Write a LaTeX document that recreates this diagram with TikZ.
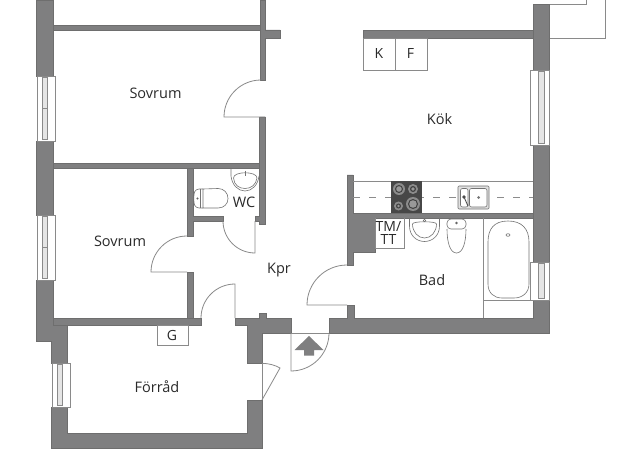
\documentclass[tikz,border=0pt]{standalone}
\usepackage{fontspec}
\setmainfont{Open Sans}
\definecolor{wallc}{HTML}{7F7F80}
\definecolor{edgec}{HTML}{6E6E6E}
\definecolor{linec}{HTML}{8A8A8A}
\definecolor{inkc}{HTML}{2A2A2A}
\newcommand{\winbox}[6]{% x0 x1 y0 y1 ix0 ix1
  \draw[thinl,fill=white] (#1,#3) rectangle (#2,#4);
  \draw[thinl,fill=black!10] (#5,#3+1.5) rectangle (#6,#4-1.5);
}
\begin{document}
\begin{tikzpicture}[x=1pt,y=-1pt,
  wall/.style={fill=wallc,draw=edgec,line width=.5pt},
  thinl/.style={draw=linec,line width=.8pt},
  fix/.style={draw=black!55,line width=.6pt},
  lbl/.style={font=\fontsize{14.5}{16}\selectfont,text=inkc,inner sep=0pt},
  boxlbl/.style={font=\fontsize{14}{13.5}\selectfont,text=inkc,inner sep=0pt,align=center}]
\useasboundingbox (0,0) rectangle (625,460);
\fill[white] (0,0) rectangle (625,460);
% balcony outline
\draw[thinl] (549,38) -- (605.7,38) -- (605.7,0);
\draw[thinl] (549,4) -- (586,4) -- (586,0);
% outer left wall
\fill[wall] (36,0) -- (53,0) -- (53,76) -- (36,76) -- cycle;
\fill[wall] (36,141) rectangle (53,215);
\fill[wall] (36,280) -- (53,280) -- (53,318) -- (67.5,318) -- (67.5,363) -- (51.5,363) -- (51.5,341) -- (36,341) -- cycle;
% storeroom walls
\fill[wall] (51.5,407) -- (67.5,407) -- (67.5,433) -- (247,433) -- (247,400) -- (262,400) -- (262,448) -- (51.5,448) -- cycle;
\fill[wall] (53,318) -- (201,318) -- (201,325) -- (53,325) -- cycle;
\fill[wall] (235,318) -- (259,318) -- (259,313) -- (266,313) -- (266,318) -- (291,318) -- (291,333) -- (262,333) -- (262,363) -- (247,363) -- (247,325) -- (235,325) -- cycle;
% bedroom partitions
\fill[wall] (53,25) rectangle (265,30);
\fill[wall] (53,163) rectangle (265,168);
\fill[wall] (260,0) -- (265.5,0) -- (265.5,30) -- (280,30) -- (280,38) -- (265.5,38) -- (265.5,80) -- (260,80) -- cycle;
\fill[wall] (259.5,117) -- (265.5,117) -- (265.5,224) -- (259.5,224) -- (259.5,221) -- (255,221) -- (255,216) -- (259.5,216) -- cycle;
\fill[wall] (187,168) -- (193,168) -- (193,216) -- (223,216) -- (223,221) -- (193,221) -- (193,236) -- (187,236) -- cycle;
\fill[wall] (187,272) rectangle (193,318);
% kitchen, bath walls
\fill[wall] (363,30) rectangle (533,38);
\fill[wall] (533,4) rectangle (549,70);
\fill[wall] (533,145) rectangle (549,262);
\fill[wall] (347,305) -- (354,305) -- (354,318) -- (533,318) -- (533,300) -- (549,300) -- (549,333) -- (329,333) -- (329,318) -- (347,318) -- cycle;
\fill[wall] (347,175) -- (353,175) -- (353,213) -- (533,213) -- (533,218) -- (375,218) -- (375,252) -- (353,252) -- (353,265) -- (347,265) -- cycle;
% windows
\winbox{37}{55}{76}{141}{42}{47}
\draw[thinl] (42,108) -- (47,108);
\winbox{37}{55}{215}{280}{42}{47}
\draw[thinl] (42,247) -- (47,247);
\winbox{52}{70.5}{363}{407}{57}{62}
\winbox{530}{549}{70}{145}{538.5}{544}
\winbox{530}{549}{262}{300}{538.5}{544}
% doors
\draw[thinl] (265,117) -- (224,117) arc[start angle=180,end angle=270,radius=37] -- (260,80);
\draw[thinl] (187,272) -- (151,272) arc[start angle=180,end angle=270,radius=36];
\draw[thinl] (255,221) -- (255,253) arc[start angle=90,end angle=180,radius=32];
\draw[thinl] (235,318) -- (235,284) arc[start angle=270,end angle=180,radius=34];
\draw[thinl] (347,305) -- (307,305) arc[start angle=180,end angle=270,radius=40];
\draw[thinl] (291,333) -- (329,333);
\draw[thinl] (291,333) -- (291,371) arc[start angle=90,end angle=0,radius=38];
\draw[thinl] (262,400) -- (280,368) .. controls (275,365) and (269,363.5) .. (262,363.3);
\draw[thinl] (262,363) -- (262,400);
% entry arrow
\fill[wallc] (309,336) -- (323.5,350) -- (314,350) -- (314,355.5) -- (304,355.5) -- (304,350) -- (294.5,350) -- cycle;
% K F G TM boxes
\draw[thinl] (363,38) rectangle (395,70);
\draw[thinl] (395,38) rectangle (427,70);
\draw[thinl] (157,325) rectangle (188,345);
\draw[thinl] (375,218) -- (375,248) -- (404,248) -- (404,218);
% counter
\draw[thinl] (353,181) -- (533,181);
\draw[dashed,dash pattern=on 7pt off 9pt,draw=black!45,line width=.6pt] (353,197) -- (533,197);
\draw[thinl] (483,218) -- (483,318);
\draw[thinl] (483,300) -- (533,300);
% stove
\fill[black!72] (391,181) rectangle (422,213);
\foreach \cx/\cy/\r in {399/189/6,413/189/5,398.5/206/4.5,413/204/7}{
  \fill[black!45] (\cx,\cy) circle (\r);
  \fill[black!75] (\cx,\cy) circle (\r-2);
  \fill[black!40] (\cx,\cy) circle (\r-3.2);
}
% kitchen sink
\draw[fix,fill=black!12,rounded corners=1pt] (458,186) rectangle (489,209);
\draw[fix,fill=white,rounded corners=2pt] (460.5,188.5) rectangle (468,207);
\draw[fix,fill=white,rounded corners=2pt] (469.5,188.5) rectangle (487,207);
\fill[black!70] (464,197) circle (1.8);
\fill[black!55] (478.5,197.5) circle (1.5);
\draw[black!70,line width=.9pt] (464,197) -- (468,206);
% bath basin
\draw[fix] (409.5,218) -- (409.5,226) .. controls (409.5,236) and (417,241.5) .. (424.5,241.5) .. controls (432,241.5) and (439.5,236) .. (439.5,226) -- (439.5,218);
\draw[fix] (412.5,224) .. controls (412.5,232) and (418,238) .. (424.5,238) .. controls (431,238) and (436.5,232) .. (436.5,224) .. controls (436.5,221) and (412.5,221) .. (412.5,224) -- cycle;
\draw[fix,fill=white] (424.5,220.5) circle (1.3);
% bath toilet
\draw[fix] (447,229) .. controls (447,242) and (450,253) .. (456.5,253) .. controls (463,253) and (466,242) .. (466,229);
\draw[fix,fill=white,rounded corners=4pt] (447,219) rectangle (466,229);
\fill[black!60] (456.5,223) circle (1.4);
% bathtub
\draw[fix] (488,242) .. controls (488,229) and (494,221) .. (508,221) .. controls (522,221) and (529,229) .. (529,242) -- (529,284) .. controls (529,293) and (522,298) .. (514,298) -- (502,298) .. controls (494,298) and (488,293) .. (488,284) -- cycle;
\draw[fix] (508,235) ellipse (2 and 1.3);
% WC basin
\draw[fix] (231,168) -- (231,176) .. controls (232,185) and (238,191) .. (245,191) .. controls (252,191) and (258,185) .. (259,176);
\draw[fix] (233.5,178) .. controls (234,185) and (239,188.5) .. (245,188.5) .. controls (251,188.5) and (256,185) .. (257,178) .. controls (257,171) and (233.5,171) .. (233.5,178) -- cycle;
\draw[fix] (245,171) -- (245,176);
% WC toilet
\draw[fix] (203,189) -- (218,188.5) .. controls (224,188.5) and (228,193) .. (228,198.5) .. controls (228,204) and (224,208) .. (218,208) -- (203,208) -- cycle;
\draw[fix,rounded corners=3pt] (203,189) -- (196,189) .. controls (193.5,194) and (193.5,203) .. (196,208) -- (203,208);
\draw[fix] (200.5,189) -- (200.5,208);
\fill[black!60] (197.5,198.5) circle (1.2);
% labels
\node[lbl] (sov1) at (155.5,93) {Sovrum};
\node[lbl] (sov2) at (120,241) {Sovrum};
\node[lbl] (wc) at (244,202.5) {WC};
\node[lbl] (kpr) at (279,270) {Kpr};
\node[lbl] (kok) at (439.5,119) {Kök};
\node[lbl] (bad) at (432,280) {Bad};
\node[lbl] (forrad) at (157,387) {Förråd};
\node[boxlbl] (k) at (379,54) {K};
\node[boxlbl] (f) at (410.5,54) {F};
\node[boxlbl] (g) at (172,335.5) {G};
\node[boxlbl] (tm) at (388.5,233) {TM/\\TT};
\end{tikzpicture}
\end{document}
